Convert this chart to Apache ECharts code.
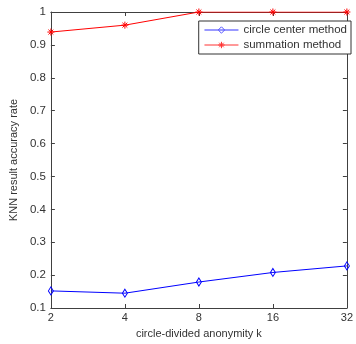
<!DOCTYPE html>
<html><head><meta charset="utf-8">
<script src="https://cdn.jsdelivr.net/npm/echarts@6/dist/echarts.min.js"></script>
<style>html,body{margin:0;padding:0;background:#fff}#c{width:356px;height:344px}</style>
</head><body><div id="c"></div>
<script>
var categories = ['2','4','8','16','32'];
var circleCenter = [0.152, 0.145, 0.179, 0.208, 0.228];
var summation = [0.939, 0.960, 1.0, 1.0, 1.0];
var yTicks = [0.1,0.2,0.3,0.4,0.5,0.6,0.7,0.8,0.9,1];

var chart = echarts.init(document.getElementById('c'), null, {renderer:'canvas'});
var axisColor = '#404040';
var font = 'Liberation Sans, Arial, sans-serif';
var asterisk = 'path://M0,5L10,5M5,0L5,10M1.5,1.5L8.5,8.5M8.5,1.5L1.5,8.5';
chart.setOption({
  animation:false,
  grid:{left:50,top:12,right:5,bottom:36,containLabel:false},
  legend:{
    orient:'vertical', right:5, top:21, width:150,
    backgroundColor:'#fff', borderColor:'#333', borderWidth:1,
    padding:[3,4,3,5], itemGap:3, itemWidth:34, itemHeight:8,
    textStyle:{fontFamily:font,fontSize:11.5,color:'#333'},
    data:[
      {name:'circle center method',
       itemStyle:{color:'rgba(0,0,0,0)',borderColor:'#5555ff',borderWidth:1},
       lineStyle:{color:'#7777ff',width:1.5}},
      {name:'summation method',
       itemStyle:{color:'none',borderColor:'#ff3333',borderWidth:1},
       lineStyle:{color:'#ff3333',width:1}}
    ]
  },
  xAxis:[{
    type:'category', data:categories, boundaryGap:false,
    name:'circle-divided anonymity k', nameLocation:'middle', nameGap:20,
    nameTextStyle:{fontFamily:font,fontSize:11,color:'#333'},
    axisLine:{lineStyle:{color:axisColor}},
    axisTick:{inside:true,length:4,alignWithLabel:true,lineStyle:{color:axisColor}},
    axisLabel:{fontFamily:font,fontSize:11,color:'#333',margin:4},
    splitLine:{show:false}
  },{
    type:'category', data:categories, boundaryGap:false, position:'top',
    axisLine:{lineStyle:{color:axisColor}},
    axisTick:{inside:true,length:4,lineStyle:{color:axisColor}},
    axisLabel:{show:false}, splitLine:{show:false}
  }],
  yAxis:[{
    type:'value', min:0.1, max:1, interval:0.1,
    name:'KNN result accuracy rate', nameLocation:'middle', nameGap:22,
    nameTextStyle:{fontFamily:font,fontSize:11,color:'#333'},
    axisLine:{show:true,lineStyle:{color:axisColor}},
    axisTick:{show:true,inside:true,length:4,lineStyle:{color:axisColor}},
    axisLabel:{fontFamily:font,fontSize:11.5,color:'#333',margin:5,
      formatter:function(v){return String(Math.round(v*10)/10);}},
    splitLine:{show:false}
  },{
    type:'value', min:0.1, max:1, interval:0.1, position:'right',
    axisLine:{show:true,lineStyle:{color:axisColor}},
    axisTick:{show:true,inside:true,length:4,lineStyle:{color:axisColor}},
    axisLabel:{show:false}, splitLine:{show:false}
  }],
  series:[{
    name:'circle center method', type:'line', data:circleCenter,
    symbol:'diamond', symbolSize:[5,8], showAllSymbol:true,
    lineStyle:{color:'#0000ff',width:1},
    itemStyle:{color:'rgba(0,0,0,0)',borderColor:'#0000ff',borderWidth:1}
  },{
    name:'summation method', type:'line', data:summation,
    symbol:asterisk, symbolSize:7, showAllSymbol:true,
    lineStyle:{color:'#ff0000',width:1},
    itemStyle:{color:'none',borderColor:'#ff0000',borderWidth:1}
  }]
});
</script></body></html>
